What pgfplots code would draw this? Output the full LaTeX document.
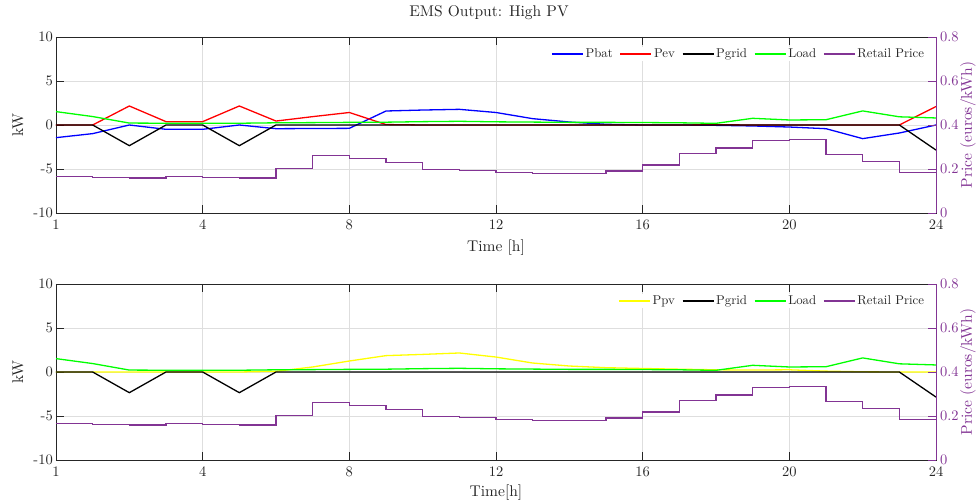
\documentclass[border=0pt]{standalone}
\usepackage{fontspec}
\setmainfont{lmroman10-regular}[Extension=.otf]
\usepackage{pgfplots}
\usepackage{pgfplotstable}
\pgfplotsset{compat=1.18}

\definecolor{axgray}{rgb}{0.15,0.15,0.15}
\definecolor{gridgray}{rgb}{0.87,0.87,0.87}
\definecolor{pricepurple}{RGB}{130,52,148}
\definecolor{cbat}{RGB}{0,0,255}
\definecolor{cev}{RGB}{255,0,0}
\definecolor{cgrid}{RGB}{0,0,0}
\definecolor{cload}{RGB}{0,255,0}
\definecolor{cpv}{RGB}{255,255,0}

% hourly EMS results (kW) and retail price (euros/kWh)
\pgfplotstableread{
t  Pbat  Pev   Pgrid  Load  Ppv   Price
0  -1.44 0     0      1.52  0     0.167
1  -0.98 0     0      0.96  0     0.162
2  0     2.16  -2.35  0.22  0     0.159
3  -0.49 0.38  0      0.20  0     0.167
4  -0.49 0.38  0      0.20  0     0.162
5  0     2.16  -2.35  0.20  0     0.159
6  -0.42 0.45  0      0.25  0.08  0.202
7  -0.40 0.95  0      0.27  0.57  0.261
8  -0.38 1.42  0      0.30  1.25  0.249
9  1.59  0.05  0      0.32  1.86  0.228
10 1.70  0     0      0.38  2.00  0.199
11 1.78  0     0      0.42  2.16  0.194
12 1.42  0     0      0.36  1.70  0.185
13 0.72  0     0      0.33  1.02  0.181
14 0.34  0     0      0.30  0.68  0.181
15 0.08  0     0      0.30  0.49  0.191
16 0     0     0      0.28  0.40  0.218
17 0     0     0      0.25  0.32  0.270
18 -0.04 0.03  0      0.19  0.25  0.296
19 -0.11 0     0      0.76  0.22  0.331
20 -0.23 0     0      0.57  0.25  0.335
21 -0.42 0     0      0.60  0.10  0.267
22 -1.55 0     0      1.60  0.02  0.235
23 -0.91 0     0      0.93  0     0.185
24 0     2.10  -2.85  0.80  0     0.185
}\ems

\pgfplotsset{
  emsbase/.style={
    scale only axis, width=880pt, height=176pt,
    xmin=0, xmax=24,
    tick align=inside, major tick length=8pt,
    ticklabel style={font=\fontsize{14.5}{16}\selectfont, inner sep=3pt},
    label style={font=\fontsize{15.5}{18}\selectfont},
  },
  emsleft/.style={
    emsbase,
    ymin=-10, ymax=10,
    xtick={0,4,...,24}, xticklabels={1,4,8,12,16,20,24},
    ytick={-10,-5,0,5,10}, yticklabels={-10,-5,0,5,10},
    xtick pos=both, ytick pos=left,
    xticklabel style={inner sep=0.5pt, yshift=-6pt},
    grid=major, major grid style={gridgray, line width=0.5pt},
    axis line style={axgray, line width=0.6pt},
    tick style={axgray, line width=0.6pt},
    ticklabel style={text=axgray},
    label style={text=axgray},
    ylabel={kW},
    ylabel style={at={(axis description cs:-0.0432,0.5)}, anchor=center},
    every axis plot/.append style={line width=1.3pt},
  },
  emsright/.style={
    emsbase,
    ymin=0, ymax=0.8,
    ytick={0,0.2,0.4,0.6,0.8}, yticklabels={0,0.2,0.4,0.6,0.8},
    axis x line=none, axis y line*=right,
    y axis line style={pricepurple, line width=0.6pt},
    ytick style={pricepurple, line width=0.6pt},
    yticklabel style={text=pricepurple, inner sep=0.5pt, xshift=3.5pt},
    ylabel={Price (euros/kWh)},
    ylabel style={at={(axis description cs:1.0364,0.5)}, anchor=center,
      text=pricepurple},
    every axis plot/.append style={line width=1.3pt},
    legend columns=-1,
    legend style={at={(axis description cs:0.99,0.903)}, anchor=east,
      draw=none, fill=white, inner sep=1pt,
      font=\fontsize{12.8}{15}\selectfont, text=axgray,
      nodes={inner xsep=2pt, inner ysep=1pt},
      /tikz/every even column/.append style={column sep=5pt}},
    legend image code/.code={\draw[#1] (0pt,0pt) -- (31pt,0pt);},
  },
}

\begin{document}
\begin{tikzpicture}
\useasboundingbox (0,0) rectangle (978pt,503pt);

% ---- upper panel: battery, EV, grid and load ----
\begin{axis}[emsleft, at={(56pt,290pt)}, anchor=south west,
  xlabel={Time [h]},
  xlabel style={at={(axis description cs:0.5,-0.199)}, anchor=center},
  title={EMS Output: High PV},
  title style={at={(axis description cs:0.5,1)}, anchor=center,
    yshift=18pt, xshift=-7pt, font=\fontsize{15.5}{18}\selectfont, text=axgray}]
\addplot[cbat] table[x=t, y=Pbat] {\ems};
\addplot[cev] table[x=t, y=Pev] {\ems};
\addplot[cgrid] table[x=t, y=Pgrid] {\ems};
\addplot[cload] table[x=t, y=Load] {\ems};
\end{axis}
\begin{axis}[emsright, at={(56pt,290pt)}, anchor=south west]
\addlegendimage{cbat, line width=1.3pt}
\addlegendentry{Pbat}
\addlegendimage{cev, line width=1.3pt}
\addlegendentry{Pev}
\addlegendimage{cgrid, line width=1.3pt}
\addlegendentry{Pgrid}
\addlegendimage{cload, line width=1.3pt}
\addlegendentry{Load}
\addplot[pricepurple, const plot] table[x=t, y=Price] {\ems};
\addlegendentry{Retail Price}
\end{axis}

% ---- lower panel: PV, grid and load ----
\begin{axis}[emsleft, at={(56pt,43pt)}, anchor=south west,
  xlabel={Time[h]},
  xlabel style={at={(axis description cs:0.5,-0.1875)}, anchor=center}]
\addplot[cpv] table[x=t, y=Ppv] {\ems};
\addplot[cgrid] table[x=t, y=Pgrid] {\ems};
\addplot[cload] table[x=t, y=Load] {\ems};
\end{axis}
\begin{axis}[emsright, at={(56pt,43pt)}, anchor=south west]
\addlegendimage{cpv, line width=1.3pt}
\addlegendentry{Ppv}
\addlegendimage{cgrid, line width=1.3pt}
\addlegendentry{Pgrid}
\addlegendimage{cload, line width=1.3pt}
\addlegendentry{Load}
\addplot[pricepurple, const plot] table[x=t, y=Price] {\ems};
\addlegendentry{Retail Price}
\end{axis}
\end{tikzpicture}
\end{document}
